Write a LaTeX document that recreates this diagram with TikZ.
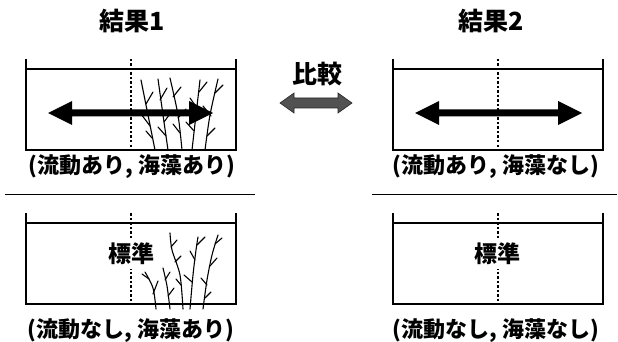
\documentclass[tikz,border=0pt]{standalone}
\usepackage{fontspec}
\setmainfont{Noto Sans CJK JP}

\begin{document}
\begin{tikzpicture}[x=1pt,y=-1pt,
  tank/.style={line width=1.1pt},
  midline/.style={line width=1.4pt,dash pattern=on 2.5pt off 2pt},
  weed/.style={line width=1.1pt,line cap=round},
  sep/.style={line width=1pt},
  title/.style={font=\bfseries\fontsize{25}{25}\selectfont,inner sep=0pt},
  cond/.style={font=\bfseries\fontsize{22}{22}\selectfont,inner sep=0pt},
  std/.style={font=\bfseries\fontsize{23}{23}\selectfont,fill=white,inner sep=4pt}]
\useasboundingbox (0,0) rectangle (618,342);

\node[title] (res1) at (132,21) {結果1};
\node[title] (res2) at (491,21) {結果2};
\node[title] (cmp) at (317,74) {比較};

% tanks: left x / top y
\foreach \x/\y in {26/59, 393/59, 26/213, 393/213}{
  \draw[tank] (\x,\y) -- (\x,\y+91) -- (\x+210,\y+91) -- (\x+210,\y);
  \draw[tank] (\x,\y+10) -- (\x+210,\y+10);
  \draw[midline] (\x+105,\y) -- (\x+105,\y+91);
}

% seaweed, upper tank
\draw[weed] plot[smooth] coordinates {(155,150) (149,120) (141,80)};
\draw[weed] (146,104) -- (153,92) (150,126) -- (141,114) (152,138) -- (146,131);
\draw[weed] plot[smooth] coordinates {(168,150) (163,115) (158,79)};
\draw[weed] (160,100) -- (167,88) (164,122) -- (172,111) (166,136) -- (158,127);
\draw[weed] plot[smooth] coordinates {(182,150) (178,115) (170,78)};
\draw[weed] (173,97) -- (181,87) (178,118) -- (186,109) (180,133) -- (173,124);
\draw[weed] plot[smooth] coordinates {(192,150) (196,115) (200,80)};
\draw[weed] (199,92) -- (207,82) (197,108) -- (190,98) (194,131) -- (186,122);
\draw[weed] plot[smooth] coordinates {(205,150) (210,115) (218,79)};
\draw[weed] (215,93) -- (223,85) (211,116) -- (203,106) (207,136) -- (215,128);

% seaweed, lower tank
\draw[weed] plot[smooth] coordinates {(156,309) (153,288) (145,272)};
\draw[weed] (149,279) -- (142,274) (153,294) -- (158,281);
\draw[weed] plot[smooth] coordinates {(170,309) (167,286) (163,268)};
\draw[weed] (165,280) -- (170,272) (168,296) -- (174,288);
\draw[weed] plot[smooth] coordinates {(183,309) (180,275) (172,250) (170,233)};
\draw[weed] (171,247) -- (177,240) (175,262) -- (181,256) (181,285) -- (176,279);
\draw[weed] plot[smooth] coordinates {(190,309) (193,275) (196,250) (198,237)};
\draw[weed] (197,245) -- (205,237) (195,260) -- (190,251) (192,282) -- (184,275);
\draw[weed] plot[smooth] coordinates {(203,309) (207,280) (212,255) (218,235)};
\draw[weed] (215,244) -- (222,238) (210,266) -- (217,258) (207,285) -- (201,278) (205,298) -- (211,292);

% flow arrows
\fill (48,113) -- (72,101) -- (72,109.5) -- (189,109.5) -- (189,101) -- (213,113)
  -- (189,125) -- (189,116.5) -- (72,116.5) -- (72,125) -- cycle;
\fill (415,113) -- (439,101) -- (439,109.5) -- (558,109.5) -- (558,101) -- (582,113)
  -- (558,125) -- (558,116.5) -- (439,116.5) -- (439,125) -- cycle;

% compare arrow
\filldraw[fill=black!68,draw=black!85,line width=0.6pt] (280,103) -- (294,93) -- (294,98)
  -- (338,98) -- (338,93) -- (352,103) -- (338,113) -- (338,108) -- (294,108) -- (294,113) -- cycle;

\node[std] (std1) at (131,254) {標準};
\node[std] (std2) at (497,254) {標準};

\node[cond] (c1) at (132,167) {(流動あり, 海藻あり)};
\node[cond] (c2) at (496,167) {(流動あり, 海藻なし)};
\node[cond] (c3) at (131,331) {(流動なし, 海藻あり)};
\node[cond] (c4) at (496,331) {(流動なし, 海藻なし)};

\draw[sep] (5,194) -- (255,194);
\draw[sep] (372,194) -- (617,194);
\end{tikzpicture}
\end{document}
